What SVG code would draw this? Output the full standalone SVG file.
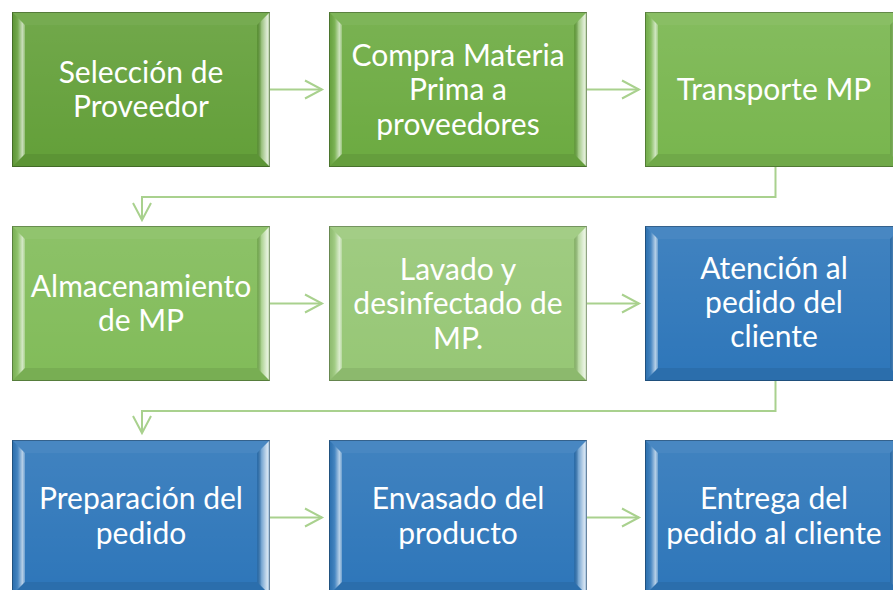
<svg xmlns="http://www.w3.org/2000/svg" xmlns:xlink="http://www.w3.org/1999/xlink" width="893" height="590" viewBox="0 0 893 590">
<defs>
<linearGradient id="gFace" x1="0" y1="0" x2="0" y2="1">
<stop offset="0" stop-color="#fff" stop-opacity="0.08"/>
<stop offset="1" stop-color="#fff" stop-opacity="0"/>
</linearGradient>
<linearGradient id="gLeft" x1="0" y1="0" x2="1" y2="0">
<stop offset="0" stop-color="#000" stop-opacity="0.05"/>
<stop offset="0.45" stop-color="#fff" stop-opacity="0.12"/>
<stop offset="0.8" stop-color="#fff" stop-opacity="0.65"/>
<stop offset="1" stop-color="#fff" stop-opacity="0.3"/>
</linearGradient>
<linearGradient id="gRight" x1="0" y1="0" x2="1" y2="0">
<stop offset="0" stop-color="#000" stop-opacity="0.08"/>
<stop offset="0.35" stop-color="#fff" stop-opacity="0.35"/>
<stop offset="0.8" stop-color="#fff" stop-opacity="0.8"/>
<stop offset="1" stop-color="#fff" stop-opacity="0.4"/>
</linearGradient>
<g id="bevel">
<rect x="13" y="13" width="232" height="129" fill="url(#gFace)"/>
<polygon points="0,0 258,0 245,13 13,13" fill="#fff" fill-opacity="0.12"/>
<polygon points="0,0 13,13 13,142 0,155" fill="url(#gLeft)"/>
<polygon points="258,0 245,13 245,142 258,155" fill="url(#gRight)"/>
<polygon points="0,155 13,142 245,142 258,155" fill="#000" fill-opacity="0.07"/>
<rect x="0.5" y="0.5" width="257" height="154" fill="none" stroke="#000" stroke-opacity="0.28" stroke-width="1"/>
</g>
<marker id="chev" markerUnits="userSpaceOnUse" markerWidth="24" markerHeight="24" viewBox="-20 -12 24 24" refX="0" refY="0" orient="auto">
<path d="M-17,-9 L0,0 L-17,9" fill="none" stroke="#a9d18e" stroke-width="2"/>
</marker>
</defs>
<style>
.lbl{font-family:Lato,"Liberation Sans",sans-serif;font-size:30px;fill:#fff;text-anchor:middle}
.con{fill:none;stroke:#a9d18e;stroke-width:2}
</style>
<rect width="893" height="590" fill="#fff"/>
<g id="connectors">
<path class="con" d="M270,89.5 H322" marker-end="url(#chev)"/>
<path class="con" d="M587,89.5 H639" marker-end="url(#chev)"/>
<path class="con" d="M775.5,167 V197 H142 V220" marker-end="url(#chev)"/>
<path class="con" d="M270,303.5 H322" marker-end="url(#chev)"/>
<path class="con" d="M587,303.5 H639" marker-end="url(#chev)"/>
<path class="con" d="M775.5,381 V411 H142 V433" marker-end="url(#chev)"/>
<path class="con" d="M270,517.5 H322" marker-end="url(#chev)"/>
<path class="con" d="M587,517.5 H639" marker-end="url(#chev)"/>
</g>
<g id="n1">
<rect x="12" y="12" width="258" height="155" fill="#64a03a"/>
<use xlink:href="#bevel" x="12" y="12"/>
<text class="lbl"><tspan x="141" y="83">Selección de</tspan><tspan x="141" y="117">Proveedor</tspan></text>
</g>
<g id="n2">
<rect x="329" y="12" width="258" height="155" fill="#6dab42"/>
<use xlink:href="#bevel" x="329" y="12"/>
<text class="lbl"><tspan x="458" y="65.5">Compra Materia</tspan><tspan x="458" y="100">Prima a</tspan><tspan x="458" y="134.5">proveedores</tspan></text>
</g>
<g id="n3">
<rect x="645" y="12" width="258" height="155" fill="#79b64f"/>
<use xlink:href="#bevel" x="645" y="12"/>
<text class="lbl"><tspan x="774" y="100">Transporte MP</tspan></text>
</g>
<g id="n4">
<rect x="12" y="226" width="258" height="155" fill="#82bc5a"/>
<use xlink:href="#bevel" x="12" y="226"/>
<text class="lbl"><tspan x="141" y="297">Almacenamiento</tspan><tspan x="141" y="331">de MP</tspan></text>
</g>
<g id="n5">
<rect x="329" y="226" width="258" height="155" fill="#97c776"/>
<use xlink:href="#bevel" x="329" y="226"/>
<text class="lbl"><tspan x="458" y="279.5">Lavado y</tspan><tspan x="458" y="314">desinfectado de</tspan><tspan x="458" y="348.5">MP.</tspan></text>
</g>
<g id="n6">
<rect x="645" y="226" width="258" height="155" fill="#2f77ba"/>
<use xlink:href="#bevel" x="645" y="226"/>
<text class="lbl"><tspan x="774" y="279">Atención al</tspan><tspan x="774" y="313">pedido del</tspan><tspan x="774" y="347">cliente</tspan></text>
</g>
<g id="n7">
<rect x="12" y="440" width="258" height="155" fill="#2f77ba"/>
<use xlink:href="#bevel" x="12" y="440"/>
<text class="lbl"><tspan x="141" y="509">Preparación del</tspan><tspan x="141" y="543.5">pedido</tspan></text>
</g>
<g id="n8">
<rect x="329" y="440" width="258" height="155" fill="#2f77ba"/>
<use xlink:href="#bevel" x="329" y="440"/>
<text class="lbl"><tspan x="458" y="509">Envasado del</tspan><tspan x="458" y="543.5">producto</tspan></text>
</g>
<g id="n9">
<rect x="645" y="440" width="258" height="155" fill="#2f77ba"/>
<use xlink:href="#bevel" x="645" y="440"/>
<text class="lbl"><tspan x="774" y="509">Entrega del</tspan><tspan x="774" y="543.5">pedido al cliente</tspan></text>
</g>
</svg>
